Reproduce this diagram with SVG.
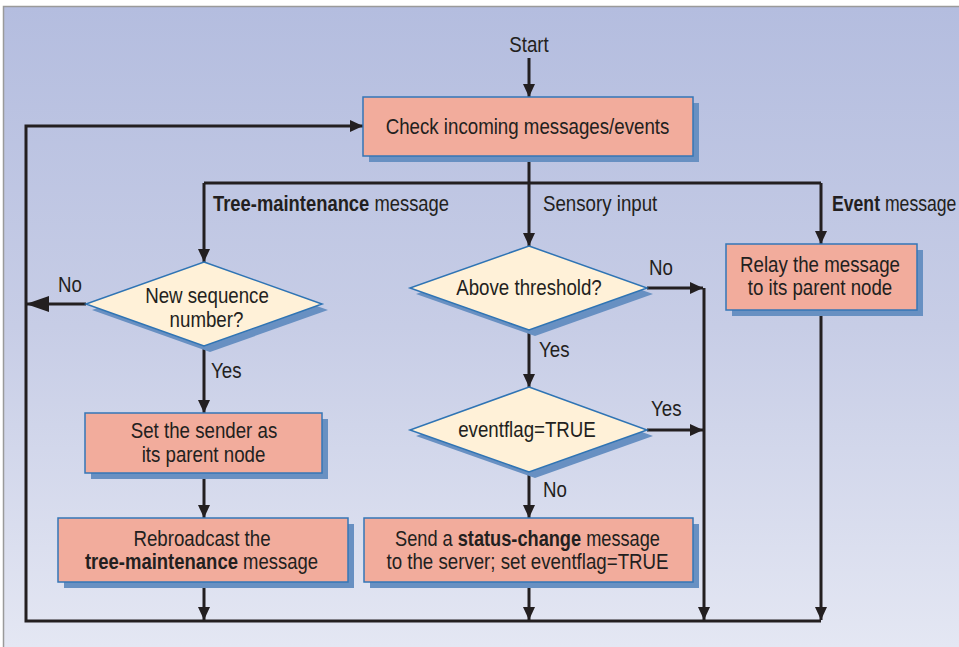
<svg xmlns="http://www.w3.org/2000/svg" width="959" height="647" viewBox="0 0 959 647">
  <defs>
    <linearGradient id="bg" x1="0" y1="0" x2="0" y2="1">
      <stop offset="0" stop-color="#b4bddf"/>
      <stop offset="0.5" stop-color="#c7cde6"/>
      <stop offset="1" stop-color="#e4e7f3"/>
    </linearGradient>
    <marker id="arrow" viewBox="0 0 13 12" refX="13" refY="6" markerWidth="13" markerHeight="12" markerUnits="userSpaceOnUse" orient="auto">
      <path d="M0,0 L13,6 L0,12 z" fill="#231f20"/>
    </marker>
    <marker id="arrow-big" viewBox="0 0 23 16" refX="23" refY="8" markerWidth="23" markerHeight="16" markerUnits="userSpaceOnUse" orient="auto">
      <path d="M0,0 L23,8 L0,16 z" fill="#231f20"/>
    </marker>
  </defs>
  <style>
    .box { fill: #f2ac9c; stroke: #3576b6; stroke-width: 1.5; }
    .dia { fill: #fff1d8; stroke: #2f74b4; stroke-width: 1.5; }
    .shadow { fill: #6890c2; }
    .wire { fill: none; stroke: #231f20; stroke-width: 3; }
    .arr { marker-end: url(#arrow); }
    text { font-family: "Liberation Sans", Arial, sans-serif; font-size: 21.5px; fill: #231f20; }
    .c { text-anchor: middle; }
    .b { font-weight: bold; }
  </style>

  <!-- panel -->
  <rect x="0" y="0" width="959" height="647" fill="#ffffff"/>
  <rect x="3" y="6" width="956" height="641" fill="url(#bg)"/>
  <path d="M3.5,647 V6.5 H959" fill="none" stroke="#9a9a9a" stroke-width="1.5"/>

  <!-- connectors -->
  <g id="connectors">
    <line class="wire arr" x1="529" y1="58" x2="529" y2="97"/>
    <line class="wire arr" x1="529" y1="156" x2="529" y2="246"/>
    <path class="wire" d="M204,183 H821"/>
    <line class="wire arr" x1="204" y1="183" x2="204" y2="262"/>
    <line class="wire arr" x1="821" y1="183" x2="821" y2="244"/>
    <line class="wire" x1="86" y1="304" x2="26" y2="304" marker-end="url(#arrow-big)"/>
    <line class="wire arr" x1="204" y1="346" x2="204" y2="413"/>
    <line class="wire arr" x1="204" y1="473" x2="204" y2="518"/>
    <line class="wire arr" x1="204" y1="582" x2="204" y2="620"/>
    <line class="wire arr" x1="647" y1="288" x2="703" y2="288"/>
    <line class="wire arr" x1="704" y1="288" x2="704" y2="620"/>
    <line class="wire arr" x1="529" y1="330" x2="529" y2="387"/>
    <line class="wire arr" x1="647" y1="430" x2="703" y2="430"/>
    <line class="wire arr" x1="529" y1="472" x2="529" y2="518"/>
    <line class="wire arr" x1="529" y1="582" x2="529" y2="620"/>
    <line class="wire arr" x1="821" y1="310" x2="821" y2="620"/>
    <path class="wire arr" d="M821,621 H26 V126 H363"/>
  </g>

  <!-- connector labels (text narrowed horizontally to a condensed face) -->
  <g id="labels">
    <text transform="translate(213,211) scale(0.855,1)"><tspan class="b">Tree-maintenance</tspan> message</text>
    <text transform="translate(543,211) scale(0.87,1)">Sensory input</text>
    <text transform="translate(832,211) scale(0.82,1)"><tspan class="b">Event</tspan> message</text>
    <text transform="translate(58,292) scale(0.87,1)">No</text>
    <text transform="translate(211,378) scale(0.87,1)">Yes</text>
    <text transform="translate(649,275) scale(0.87,1)">No</text>
    <text transform="translate(539,357) scale(0.87,1)">Yes</text>
    <text transform="translate(651,416) scale(0.87,1)">Yes</text>
    <text transform="translate(543,497) scale(0.87,1)">No</text>
  </g>

  <g id="start">
    <text class="c" transform="translate(529,52) scale(0.87,1)">Start</text>
  </g>

  <g id="check">
    <rect class="shadow" x="369" y="103" width="330" height="59"/>
    <rect class="box" x="363" y="97" width="330" height="59"/>
    <text class="c" transform="translate(527.5,134) scale(0.87,1)">Check incoming messages/events</text>
  </g>

  <g id="sequence">
    <polygon class="shadow" points="210,268 328,310 210,352 92,310"/>
    <polygon class="dia" points="204,262 322,304 204,346 86,304"/>
    <text class="c" transform="translate(207,303) scale(0.87,1)">New sequence</text>
    <text class="c" transform="translate(206.5,327) scale(0.87,1)">number?</text>
  </g>

  <g id="sender">
    <rect class="shadow" x="91" y="419" width="237" height="60"/>
    <rect class="box" x="85" y="413" width="237" height="60"/>
    <text class="c" transform="translate(204,438) scale(0.87,1)">Set the sender as</text>
    <text class="c" transform="translate(203.5,462) scale(0.87,1)">its parent node</text>
  </g>

  <g id="rebroadcast">
    <rect class="shadow" x="64" y="524" width="290" height="64"/>
    <rect class="box" x="58" y="518" width="290" height="64"/>
    <text class="c" transform="translate(202,546) scale(0.87,1)">Rebroadcast the</text>
    <text class="c" transform="translate(201.5,569) scale(0.86,1)"><tspan class="b">tree-maintenance</tspan> message</text>
  </g>

  <g id="threshold">
    <polygon class="shadow" points="535,252 653,294 535,336 416,294"/>
    <polygon class="dia" points="529,246 647,288 529,330 410,288"/>
    <text class="c" transform="translate(529,295) scale(0.87,1)">Above threshold?</text>
  </g>

  <g id="eventflag">
    <polygon class="shadow" points="535,393 653,436 535,478 416,436"/>
    <polygon class="dia" points="529,387 647,430 529,472 410,430"/>
    <text class="c" transform="translate(527,437) scale(0.87,1)">eventflag=TRUE</text>
  </g>

  <g id="status-change">
    <rect class="shadow" x="370" y="524" width="329" height="64"/>
    <rect class="box" x="364" y="518" width="329" height="64"/>
    <text class="c" transform="translate(527.5,546) scale(0.847,1)">Send a <tspan class="b">status-change</tspan> message</text>
    <text class="c" transform="translate(527.5,569) scale(0.87,1)">to the server; set eventflag=TRUE</text>
  </g>

  <g id="relay">
    <rect class="shadow" x="732" y="250" width="191" height="66"/>
    <rect class="box" x="726" y="244" width="191" height="66"/>
    <text class="c" transform="translate(820,272) scale(0.87,1)">Relay the message</text>
    <text class="c" transform="translate(820,295) scale(0.87,1)">to its parent node</text>
  </g>
</svg>
